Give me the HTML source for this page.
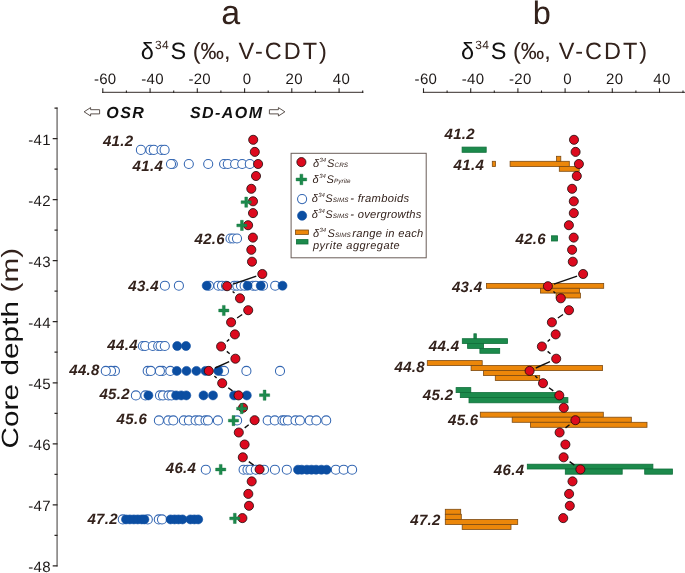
<!DOCTYPE html>
<html lang="en"><head><meta charset="utf-8"><title>δ34S versus core depth</title>
<style>
html,body{margin:0;padding:0;background:#fff;}
body{width:685px;height:573px;overflow:hidden;font-family:"Liberation Sans", sans-serif;}
svg{display:block;}
text{font-family:"Liberation Sans", sans-serif;text-rendering:geometricPrecision;}
.tk{font-size:15px;fill:#1c1817;letter-spacing:0.3px;}
.lab{font-size:15px;font-weight:bold;font-style:italic;fill:#33221c;}
.zone{font-size:16px;font-weight:bold;font-style:italic;fill:#111;}
.leg{font-size:11px;font-style:italic;fill:#33221c;}
.oc{fill:#fff;stroke:#3366b2;stroke-width:1.05;}
.bc{fill:#0b4ea2;stroke:#0b4ea2;stroke-width:0.6;}
.rc{fill:#dc0a1e;stroke:#1a0a0a;stroke-width:0.8;}
.ob{fill:#ec870a;stroke:#7d4a12;stroke-width:0.8;}
.gb{fill:#1c8a4c;stroke:#0f6e3a;stroke-width:0.8;}
.ax{stroke:#4a3f3a;stroke-width:1;fill:none;}
</style></head><body>
<svg width="685" height="573" viewBox="0 0 685 573">
<rect x="0" y="0" width="685" height="573" fill="#fff"/>

<text x="230.7" y="23.9" text-anchor="middle" font-size="34" fill="#33221c">a</text>
<text x="541.8" y="23.9" text-anchor="middle" font-size="32.5" fill="#33221c">b</text>
<text y="58.8" font-size="23.5" fill="#111"><tspan x="140.7">δ</tspan><tspan x="155.0" y="48.6" font-size="12" fill="#33221c" letter-spacing="0.4">34</tspan><tspan x="170.6" y="58.8">S</tspan><tspan fill="#33221c" x="192.8">(‰,</tspan><tspan fill="#33221c" x="238.6" letter-spacing="2.0">V-CDT)</tspan></text>
<text y="58.8" font-size="23.5" fill="#111"><tspan x="460.9">δ</tspan><tspan x="475.2" y="48.6" font-size="12" fill="#33221c" letter-spacing="0.4">34</tspan><tspan x="490.8" y="58.8">S</tspan><tspan fill="#33221c" x="513.0">(‰,</tspan><tspan fill="#33221c" x="558.8" letter-spacing="2.0">V-CDT)</tspan></text>
<path d="M102.2 92.4H363.3" stroke="#5c5654" stroke-width="1.2" fill="none"/>
<text x="105.2" y="83.9" class="tk" text-anchor="middle">-60</text>
<text x="152.5" y="83.9" class="tk" text-anchor="middle">-40</text>
<text x="199.7" y="83.9" class="tk" text-anchor="middle">-20</text>
<text x="247.0" y="83.9" class="tk" text-anchor="middle">0</text>
<text x="294.2" y="83.9" class="tk" text-anchor="middle">20</text>
<text x="341.4" y="83.9" class="tk" text-anchor="middle">40</text>
<path d="M102.8 92.9v-4.6M126.4 92.9v-2.4M150.1 92.9v-4.6M173.7 92.9v-2.4M197.3 92.9v-4.6M220.9 92.9v-2.4M244.6 92.9v-4.6M268.2 92.9v-2.4M291.8 92.9v-4.6M315.4 92.9v-2.4M339.1 92.9v-4.6M362.7 92.9v-2.4" stroke="#2a2523" stroke-width="1.1" fill="none"/>
<path d="M422.9 92.4H685" stroke="#5c5654" stroke-width="1.2" fill="none"/>
<text x="425.9" y="83.9" class="tk" text-anchor="middle">-60</text>
<text x="473.1" y="83.9" class="tk" text-anchor="middle">-40</text>
<text x="520.3" y="83.9" class="tk" text-anchor="middle">-20</text>
<text x="567.5" y="83.9" class="tk" text-anchor="middle">0</text>
<text x="614.7" y="83.9" class="tk" text-anchor="middle">20</text>
<text x="661.9" y="83.9" class="tk" text-anchor="middle">40</text>
<path d="M423.5 92.9v-4.6M447.1 92.9v-2.4M470.7 92.9v-4.6M494.3 92.9v-2.4M517.9 92.9v-4.6M541.5 92.9v-2.4M565.1 92.9v-4.6M588.7 92.9v-2.4M612.3 92.9v-4.6M635.9 92.9v-2.4M659.5 92.9v-4.6M683.0 92.9v-2.4" stroke="#2a2523" stroke-width="1.1" fill="none"/>
<path d="M57.1 107.6V566.5" stroke="#7d7a79" stroke-width="1.5" fill="none"/>
<text x="50.9" y="144.5" class="tk" text-anchor="end">-41</text>
<text x="50.9" y="205.5" class="tk" text-anchor="end">-42</text>
<text x="50.9" y="266.6" class="tk" text-anchor="end">-43</text>
<text x="50.9" y="327.6" class="tk" text-anchor="end">-44</text>
<text x="50.9" y="388.7" class="tk" text-anchor="end">-45</text>
<text x="50.9" y="449.7" class="tk" text-anchor="end">-46</text>
<text x="50.9" y="510.7" class="tk" text-anchor="end">-47</text>
<text x="50.9" y="571.8" class="tk" text-anchor="end">-48</text>
<path d="M57.5 108.1h-3M57.5 138.6h-4.8M57.5 169.1h-3M57.5 199.6h-4.8M57.5 230.2h-3M57.5 260.7h-4.8M57.5 291.2h-3M57.5 321.7h-4.8M57.5 352.2h-3M57.5 382.8h-4.8M57.5 413.3h-3M57.5 443.8h-4.8M57.5 474.3h-3M57.5 504.8h-4.8M57.5 535.4h-3M57.5 565.9h-4.8" stroke="#2a2523" stroke-width="1.2" fill="none"/>
<text transform="translate(18.3,448.6) rotate(-90) scale(1.26,1)" font-size="23.5" fill="#111" textLength="159.3" lengthAdjust="spacing">Core depth <tspan fill="#33221c">(m)</tspan></text>
<text x="106.3" y="117.8" class="zone" textLength="37.6" lengthAdjust="spacing">OSR</text>
<text x="189.9" y="117.8" class="zone" textLength="72.2" lengthAdjust="spacing">SD-AOM</text>
<polygon points="84.1,111.8 90.6,107.6 90.6,109.7 99.6,109.7 99.6,113.9 90.6,113.9 90.6,116.0" fill="#fff" stroke="#4a3f3a" stroke-width="0.9" stroke-linejoin="miter"/>
<polygon points="284.9,111.8 278.4,107.6 278.4,109.7 269.4,109.7 269.4,113.9 278.4,113.9 278.4,116.0" fill="#fff" stroke="#4a3f3a" stroke-width="0.9" stroke-linejoin="miter"/>
<g class="oc"><circle cx="140.9" cy="149.9" r="4.55"/><circle cx="150.4" cy="149.9" r="4.55"/><circle cx="153.8" cy="149.9" r="4.55"/><circle cx="161.5" cy="149.9" r="4.55"/><circle cx="164.6" cy="149.9" r="4.55"/></g>
<g class="oc"><circle cx="172.8" cy="164.0" r="4.55"/><circle cx="171" cy="164.0" r="4.55"/><circle cx="188.8" cy="164.0" r="4.55"/><circle cx="208.2" cy="164.0" r="4.55"/><circle cx="224.1" cy="164.0" r="4.55"/><circle cx="227.8" cy="164.0" r="4.55"/><circle cx="235.1" cy="164.0" r="4.55"/><circle cx="242.2" cy="164.0" r="4.55"/><circle cx="249.8" cy="164.0" r="4.55"/></g>
<g class="oc"><circle cx="230.5" cy="238.5" r="4.55"/><circle cx="233.2" cy="238.5" r="4.55"/><circle cx="237.0" cy="238.5" r="4.55"/></g>
<g class="oc"><circle cx="164.9" cy="285.7" r="4.55"/><circle cx="178.9" cy="285.7" r="4.55"/><circle cx="209.0" cy="285.7" r="4.55"/><circle cx="218.4" cy="285.7" r="4.55"/><circle cx="222" cy="285.7" r="4.55"/><circle cx="226" cy="285.7" r="4.55"/><circle cx="234.4" cy="285.7" r="4.55"/><circle cx="237.3" cy="285.7" r="4.55"/><circle cx="241" cy="285.7" r="4.55"/><circle cx="244.6" cy="285.7" r="4.55"/><circle cx="252.9" cy="285.7" r="4.55"/><circle cx="255.8" cy="285.7" r="4.55"/><circle cx="263.0" cy="285.7" r="4.55"/><circle cx="275.2" cy="285.7" r="4.55"/></g>
<g class="bc"><circle cx="206.7" cy="285.7" r="4.5"/><circle cx="247.6" cy="285.7" r="4.5"/><circle cx="260.7" cy="285.7" r="4.5"/><circle cx="282.5" cy="285.7" r="4.5"/></g>
<g class="oc"><circle cx="142.9" cy="346.0" r="4.55"/><circle cx="145.2" cy="346.0" r="4.55"/><circle cx="152.8" cy="346.0" r="4.55"/><circle cx="158.2" cy="346.0" r="4.55"/><circle cx="160.6" cy="346.0" r="4.55"/><circle cx="164.8" cy="346.0" r="4.55"/></g>
<g class="bc"><circle cx="177.2" cy="346.0" r="4.5"/><circle cx="186.0" cy="346.0" r="4.5"/></g>
<g class="oc"><circle cx="114.9" cy="370.9" r="4.55"/><circle cx="111.0" cy="370.9" r="4.55"/><circle cx="105.8" cy="370.9" r="4.55"/><circle cx="147.7" cy="370.9" r="4.55"/><circle cx="150.8" cy="370.9" r="4.55"/><circle cx="162.5" cy="370.9" r="4.55"/><circle cx="159.9" cy="370.9" r="4.55"/><circle cx="170.3" cy="370.9" r="4.55"/><circle cx="221.6" cy="370.9" r="4.55"/><circle cx="224.0" cy="370.9" r="4.55"/><circle cx="246.4" cy="370.9" r="4.55"/><circle cx="280.0" cy="370.9" r="4.55"/></g>
<g class="bc"><circle cx="176.8" cy="370.9" r="4.5"/><circle cx="186.5" cy="370.9" r="4.5"/><circle cx="196.4" cy="370.9" r="4.5"/><circle cx="205.5" cy="370.9" r="4.5"/><circle cx="218.3" cy="370.9" r="4.5"/></g>
<g class="oc"><circle cx="135.9" cy="395.4" r="4.55"/><circle cx="145.4" cy="395.4" r="4.55"/><circle cx="160" cy="395.4" r="4.55"/><circle cx="163" cy="395.4" r="4.55"/><circle cx="168.5" cy="395.4" r="4.55"/><circle cx="171.5" cy="395.4" r="4.55"/></g>
<g class="bc"><circle cx="148.4" cy="395.4" r="4.5"/><circle cx="176.1" cy="395.4" r="4.5"/><circle cx="181.2" cy="395.4" r="4.5"/><circle cx="186.3" cy="395.4" r="4.5"/><circle cx="203.5" cy="395.4" r="4.5"/><circle cx="213" cy="395.4" r="4.5"/><circle cx="234.1" cy="395.4" r="4.5"/><circle cx="246.8" cy="395.4" r="4.5"/></g>
<g class="oc"><circle cx="158.9" cy="420.4" r="4.55"/><circle cx="168.3" cy="420.4" r="4.55"/><circle cx="173.3" cy="420.4" r="4.55"/><circle cx="183.9" cy="420.4" r="4.55"/><circle cx="188.9" cy="420.4" r="4.55"/><circle cx="195.6" cy="420.4" r="4.55"/><circle cx="199.3" cy="420.4" r="4.55"/><circle cx="205.5" cy="420.4" r="4.55"/><circle cx="208" cy="420.4" r="4.55"/><circle cx="217.9" cy="420.4" r="4.55"/><circle cx="237.1" cy="420.4" r="4.55"/><circle cx="267.7" cy="420.4" r="4.55"/><circle cx="274.8" cy="420.4" r="4.55"/><circle cx="282.4" cy="420.4" r="4.55"/><circle cx="284.6" cy="420.4" r="4.55"/><circle cx="287.9" cy="420.4" r="4.55"/><circle cx="295.5" cy="420.4" r="4.55"/><circle cx="299.9" cy="420.4" r="4.55"/><circle cx="309.8" cy="420.4" r="4.55"/><circle cx="316.3" cy="420.4" r="4.55"/><circle cx="326.2" cy="420.4" r="4.55"/></g>
<g class="oc"><circle cx="205.8" cy="469.7" r="4.55"/><circle cx="243.6" cy="469.7" r="4.55"/><circle cx="247.5" cy="469.7" r="4.55"/><circle cx="250.5" cy="469.7" r="4.55"/><circle cx="255.8" cy="469.7" r="4.55"/><circle cx="264.0" cy="469.7" r="4.55"/><circle cx="274.9" cy="469.7" r="4.55"/><circle cx="286.8" cy="469.7" r="4.55"/><circle cx="335.8" cy="469.7" r="4.55"/><circle cx="343.7" cy="469.7" r="4.55"/><circle cx="352.1" cy="469.7" r="4.55"/></g>
<g class="bc"><circle cx="298.0" cy="469.7" r="4.5"/><circle cx="301.7" cy="469.7" r="4.5"/><circle cx="306.9" cy="469.7" r="4.5"/><circle cx="311.5" cy="469.7" r="4.5"/><circle cx="316.1" cy="469.7" r="4.5"/><circle cx="321.4" cy="469.7" r="4.5"/><circle cx="326.6" cy="469.7" r="4.5"/></g>
<g class="oc"><circle cx="122.8" cy="519.4" r="4.55"/><circle cx="147.8" cy="519.4" r="4.55"/></g>
<g class="bc"><circle cx="126" cy="519.4" r="4.5"/><circle cx="129.9" cy="519.4" r="4.5"/><circle cx="133.9" cy="519.4" r="4.5"/><circle cx="137.8" cy="519.4" r="4.5"/><circle cx="141.7" cy="519.4" r="4.5"/><circle cx="144.4" cy="519.4" r="4.5"/></g>
<g class="oc"><circle cx="158.8" cy="519.4" r="4.55"/><circle cx="162.0" cy="519.4" r="4.55"/></g>
<g class="bc"><circle cx="170.6" cy="519.4" r="4.5"/><circle cx="174.6" cy="519.4" r="4.5"/><circle cx="178.5" cy="519.4" r="4.5"/><circle cx="182.5" cy="519.4" r="4.5"/><circle cx="190.4" cy="519.4" r="4.5"/><circle cx="194.3" cy="519.4" r="4.5"/><circle cx="198.2" cy="519.4" r="4.5"/></g>
<path d="M256.3 276.1L233.1 284.1M232.6 291.4L234.5 293.1M242.2 314.5L237.1 318.0M229.2 339.4L226.8 341.5M226.8 351.4L229.7 353.8M229.2 361.6L215.0 368.0M214.4 376.0L216.6 378.1M228.2 387.7L232.5 390.9M248.7 424.8L244.7 427.9M248.8 461.6L253.6 465.1" stroke="#111" stroke-width="1.4" fill="none"/>
<g class="rc"><circle cx="253.2" cy="139.8" r="4.55"/><circle cx="254.8" cy="151.9" r="4.55"/><circle cx="258.1" cy="164.0" r="4.55"/><circle cx="256.0" cy="176.0" r="4.55"/><circle cx="251.3" cy="188.8" r="4.55"/><circle cx="253.0" cy="201.3" r="4.55"/><circle cx="253.0" cy="213.1" r="4.55"/><circle cx="248.1" cy="225.2" r="4.55"/><circle cx="252.9" cy="237.6" r="4.55"/><circle cx="251.3" cy="249.8" r="4.55"/><circle cx="252.0" cy="261.7" r="4.55"/><circle cx="262.3" cy="274.0" r="4.55"/><circle cx="227.1" cy="286.2" r="4.55"/><circle cx="240.0" cy="298.3" r="4.55"/><circle cx="248.2" cy="310.2" r="4.55"/><circle cx="231.1" cy="322.3" r="4.55"/><circle cx="234.9" cy="334.4" r="4.55"/><circle cx="221.1" cy="346.5" r="4.55"/><circle cx="235.4" cy="358.7" r="4.55"/><circle cx="208.8" cy="370.9" r="4.55"/><circle cx="222.2" cy="383.2" r="4.55"/><circle cx="238.5" cy="395.4" r="4.55"/><circle cx="243.0" cy="407.8" r="4.55"/><circle cx="254.6" cy="420.2" r="4.55"/><circle cx="238.8" cy="432.5" r="4.55"/><circle cx="244.6" cy="444.5" r="4.55"/><circle cx="242.8" cy="457.3" r="4.55"/><circle cx="259.6" cy="469.4" r="4.55"/><circle cx="251.7" cy="481.4" r="4.55"/><circle cx="248.3" cy="493.9" r="4.55"/><circle cx="249.0" cy="505.8" r="4.55"/><circle cx="242.4" cy="518.1" r="4.55"/></g>
<path d="M241.1 200.8h3.70v-3.70h2.8v3.70h3.70v2.8h-3.70v3.70h-2.8v-3.70h-3.70z" fill="#1c8a4c" stroke="#0f6e3a" stroke-width="0.4"/>
<path d="M236.8 224.0h3.70v-3.70h2.8v3.70h3.70v2.8h-3.70v3.70h-2.8v-3.70h-3.70z" fill="#1c8a4c" stroke="#0f6e3a" stroke-width="0.4"/>
<path d="M218.7 309.1h3.70v-3.70h2.8v3.70h3.70v2.8h-3.70v3.70h-2.8v-3.70h-3.70z" fill="#1c8a4c" stroke="#0f6e3a" stroke-width="0.4"/>
<path d="M259.5 393.8h3.70v-3.70h2.8v3.70h3.70v2.8h-3.70v3.70h-2.8v-3.70h-3.70z" fill="#1c8a4c" stroke="#0f6e3a" stroke-width="0.4"/>
<path d="M236.6 407.2h3.70v-3.70h2.8v3.70h3.70v2.8h-3.70v3.70h-2.8v-3.70h-3.70z" fill="#1c8a4c" stroke="#0f6e3a" stroke-width="0.4"/>
<path d="M228.4 419.2h3.70v-3.70h2.8v3.70h3.70v2.8h-3.70v3.70h-2.8v-3.70h-3.70z" fill="#1c8a4c" stroke="#0f6e3a" stroke-width="0.4"/>
<path d="M215.6 468.1h3.70v-3.70h2.8v3.70h3.70v2.8h-3.70v3.70h-2.8v-3.70h-3.70z" fill="#1c8a4c" stroke="#0f6e3a" stroke-width="0.4"/>
<path d="M229.7 517.0h3.70v-3.70h2.8v3.70h3.70v2.8h-3.70v3.70h-2.8v-3.70h-3.70z" fill="#1c8a4c" stroke="#0f6e3a" stroke-width="0.4"/>
<text x="102.9" y="145.8" class="lab" textLength="30.2" lengthAdjust="spacing">41.2</text>
<text x="132.6" y="171.1" class="lab" textLength="30.2" lengthAdjust="spacing">41.4</text>
<text x="194.5" y="244.2" class="lab" textLength="30.2" lengthAdjust="spacing">42.6</text>
<text x="128.3" y="290.7" class="lab" textLength="30.2" lengthAdjust="spacing">43.4</text>
<text x="107.3" y="350.2" class="lab" textLength="30.2" lengthAdjust="spacing">44.4</text>
<text x="69.2" y="374.7" class="lab" textLength="30.2" lengthAdjust="spacing">44.8</text>
<text x="99.4" y="399.1" class="lab" textLength="30.2" lengthAdjust="spacing">45.2</text>
<text x="116.6" y="424.4" class="lab" textLength="30.2" lengthAdjust="spacing">45.6</text>
<text x="165.7" y="472.8" class="lab" textLength="30.2" lengthAdjust="spacing">46.4</text>
<text x="87.4" y="524.4" class="lab" textLength="30.2" lengthAdjust="spacing">47.2</text>
<rect x="291.1" y="153.3" width="135.1" height="104.5" fill="#fff" stroke="#6a5d58" stroke-width="1"/>
<circle class="rc" cx="301.4" cy="162.1" r="4.55"/>
<path d="M296.1 178.0h3.85v-3.85h2.9v3.85h3.85v2.9h-3.85v3.85h-2.9v-3.85h-3.85z" fill="#1c8a4c" stroke="#0f6e3a" stroke-width="0.4"/>
<circle class="oc" cx="302.1" cy="199.1" r="4.55"/>
<circle class="bc" cx="302.1" cy="215.7" r="4.6"/>
<rect class="ob" x="295.5" y="230" width="12.9" height="4.4"/>
<rect class="gb" x="296.4" y="239.6" width="11.6" height="4.4"/>
<text class="leg" x="313" y="166.9" font-size="12">δ<tspan dy="-5" dx="0.4" font-size="6">34</tspan><tspan dy="5" x="326.9">S</tspan><tspan font-size="6.3" x="334.5" letter-spacing="0.1">CRS</tspan></text>
<text class="leg" x="312.6" y="182.7" font-size="12">δ<tspan dy="-5" dx="0.4" font-size="6">34</tspan><tspan dy="5" x="326.4">S</tspan><tspan font-size="6.3" x="334.0" letter-spacing="0.1">Pyrite</tspan></text>
<text class="leg" x="311.7" y="201.9" font-size="12">δ<tspan dy="-5" dx="0.4" font-size="6">34</tspan><tspan dy="5" x="325.2">S</tspan><tspan font-size="6.3" x="332.8" letter-spacing="0.1">SIMS</tspan><tspan x="350.3" font-size="11.2" letter-spacing="0.28">- framboids</tspan></text>
<text class="leg" x="311.7" y="217.7" font-size="12">δ<tspan dy="-5" dx="0.4" font-size="6">34</tspan><tspan dy="5" x="325.2">S</tspan><tspan font-size="6.3" x="332.8" letter-spacing="0.1">SIMS</tspan><tspan x="350.3" font-size="11.2" letter-spacing="0.28">- overgrowths</tspan></text>
<text class="leg" x="313" y="237.3" font-size="12">δ<tspan dy="-5" dx="0.4" font-size="6">34</tspan><tspan dy="5" x="327.4">S</tspan><tspan font-size="6.3" x="335.0" letter-spacing="0.1">SIMS</tspan><tspan x="352.2" font-size="11.2" letter-spacing="0.28">range in each</tspan></text>
<text class="leg" x="313" y="249.0" font-size="11.2" letter-spacing="0.48">pyrite aggregate</text>
<rect class="gb" x="462.1" y="147.1" width="24.1" height="5.2"/>
<rect class="ob" x="492.3" y="161.3" width="3.1" height="5.2"/>
<rect class="ob" x="510.1" y="161.3" width="59.2" height="5.2"/>
<rect class="ob" x="556.6" y="156.3" width="4.2" height="5.0"/>
<rect class="ob" x="559.3" y="166.5" width="19.9" height="4.8"/>
<rect class="gb" x="551.5" y="235.8" width="6.1" height="5.2"/>
<rect class="ob" x="486.4" y="283.4" width="117.3" height="4.9"/>
<rect class="ob" x="540.4" y="288.3" width="39.1" height="4.8"/>
<rect class="ob" x="556.1" y="293.1" width="24.3" height="4.9"/>
<rect class="gb" x="473.9" y="333.8" width="2.4" height="4.9"/>
<rect class="gb" x="462.3" y="338.7" width="45.3" height="4.8"/>
<rect class="gb" x="467.6" y="343.5" width="16.0" height="4.9"/>
<rect class="gb" x="479.9" y="348.4" width="19.8" height="4.9"/>
<rect class="ob" x="427.3" y="360.6" width="54.9" height="4.9"/>
<rect class="ob" x="471.1" y="365.5" width="131.4" height="5.1"/>
<rect class="ob" x="483.4" y="370.6" width="49.0" height="4.9"/>
<rect class="ob" x="495.3" y="375.5" width="44.4" height="5.0"/>
<rect class="gb" x="456.1" y="387.6" width="14.7" height="5.0"/>
<rect class="gb" x="460.3" y="392.6" width="99.2" height="5.0"/>
<rect class="gb" x="469.0" y="397.6" width="98.9" height="5.2"/>
<rect class="ob" x="480.3" y="412.2" width="123.0" height="5.0"/>
<rect class="ob" x="512.2" y="417.2" width="119.1" height="5.1"/>
<rect class="ob" x="530.4" y="422.3" width="116.6" height="5.0"/>
<rect class="gb" x="527.3" y="464.2" width="125.6" height="4.8"/>
<rect class="gb" x="565.3" y="469.0" width="56.9" height="5.2"/>
<rect class="gb" x="644.7" y="469.0" width="27.7" height="5.2"/>
<rect class="ob" x="445.3" y="509.3" width="15.4" height="5.0"/>
<rect class="ob" x="445.3" y="514.3" width="16.0" height="5.2"/>
<rect class="ob" x="445.3" y="519.5" width="72.4" height="5.0"/>
<rect class="ob" x="462.2" y="524.5" width="48.8" height="4.9"/>
<path d="M577.1 276.1L553.9 284.1M553.4 291.4L555.3 293.1M563.0 314.5L557.9 318.0M550.0 339.4L547.6 341.5M547.6 351.4L550.5 353.8M550.0 361.6L535.8 368.0M535.2 376.0L537.4 378.1M549.0 387.7L553.3 390.9M569.5 424.8L565.5 427.9M569.6 461.6L574.4 465.1" stroke="#111" stroke-width="1.4" fill="none"/>
<g class="rc"><circle cx="574.0" cy="139.8" r="4.55"/><circle cx="575.6" cy="151.9" r="4.55"/><circle cx="578.9" cy="164.0" r="4.55"/><circle cx="576.8" cy="176.0" r="4.55"/><circle cx="572.1" cy="188.8" r="4.55"/><circle cx="573.8" cy="201.3" r="4.55"/><circle cx="573.8" cy="213.1" r="4.55"/><circle cx="568.9" cy="225.2" r="4.55"/><circle cx="573.7" cy="237.6" r="4.55"/><circle cx="572.1" cy="249.8" r="4.55"/><circle cx="572.8" cy="261.7" r="4.55"/><circle cx="583.1" cy="274.0" r="4.55"/><circle cx="547.9" cy="286.2" r="4.55"/><circle cx="560.8" cy="298.3" r="4.55"/><circle cx="569.0" cy="310.2" r="4.55"/><circle cx="551.9" cy="322.3" r="4.55"/><circle cx="555.7" cy="334.4" r="4.55"/><circle cx="541.9" cy="346.5" r="4.55"/><circle cx="556.2" cy="358.7" r="4.55"/><circle cx="529.6" cy="370.9" r="4.55"/><circle cx="543.0" cy="383.2" r="4.55"/><circle cx="559.3" cy="395.4" r="4.55"/><circle cx="563.8" cy="407.8" r="4.55"/><circle cx="575.4" cy="420.2" r="4.55"/><circle cx="559.6" cy="432.5" r="4.55"/><circle cx="565.4" cy="444.5" r="4.55"/><circle cx="563.6" cy="457.3" r="4.55"/><circle cx="580.4" cy="469.4" r="4.55"/><circle cx="572.5" cy="481.4" r="4.55"/><circle cx="569.1" cy="493.9" r="4.55"/><circle cx="569.8" cy="505.8" r="4.55"/><circle cx="563.2" cy="518.1" r="4.55"/></g>
<text x="444.5" y="139.2" class="lab" textLength="30.2" lengthAdjust="spacing">41.2</text>
<text x="453.6" y="170.4" class="lab" textLength="30.2" lengthAdjust="spacing">41.4</text>
<text x="515.5" y="243.9" class="lab" textLength="30.2" lengthAdjust="spacing">42.6</text>
<text x="451.9" y="292.4" class="lab" textLength="30.2" lengthAdjust="spacing">43.4</text>
<text x="428.8" y="350.7" class="lab" textLength="30.2" lengthAdjust="spacing">44.4</text>
<text x="394.5" y="372.3" class="lab" textLength="30.2" lengthAdjust="spacing">44.8</text>
<text x="422.8" y="400.3" class="lab" textLength="30.2" lengthAdjust="spacing">45.2</text>
<text x="448.0" y="424.5" class="lab" textLength="30.2" lengthAdjust="spacing">45.6</text>
<text x="493.8" y="474.5" class="lab" textLength="30.2" lengthAdjust="spacing">46.4</text>
<text x="410.2" y="525.0" class="lab" textLength="30.2" lengthAdjust="spacing">47.2</text>
</svg></body></html>
